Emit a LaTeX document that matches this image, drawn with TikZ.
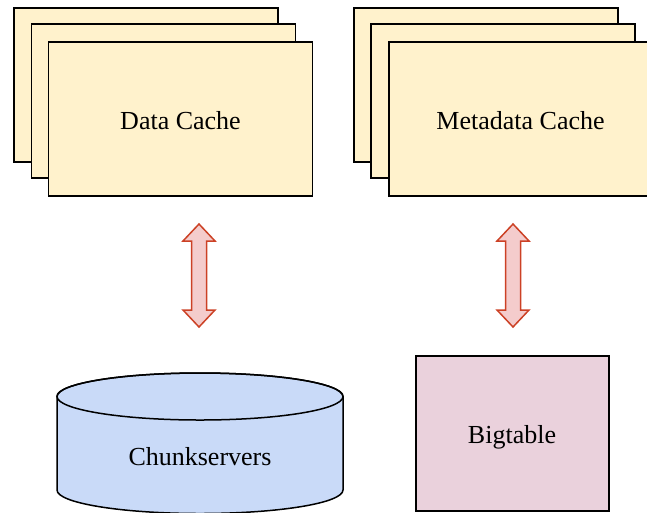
\documentclass[tikz,border=0pt]{standalone}
\usepackage{fontspec}
\setmainfont{Liberation Serif}
\definecolor{cachefill}{HTML}{FFF2CC}
\definecolor{cylfill}{HTML}{C9DAF8}
\definecolor{btfill}{HTML}{EAD1DC}
\definecolor{arrfill}{HTML}{F4CCCC}
\definecolor{arrline}{HTML}{CC4125}
\begin{document}
\begin{tikzpicture}[x=1pt,y=-1pt,
  cachebox/.style={draw=black,fill=cachefill,line width=1.5pt,minimum width=264pt,minimum height=154pt,inner sep=0pt},
  blockarrow/.style={draw=arrline,fill=arrfill,line width=1.5pt,line join=miter},
  lbl/.style={font=\fontsize{26}{30}\selectfont,inner sep=0pt}]
\useasboundingbox (0,0) rectangle (647,512);
\begin{scope}
\clip (0,0) rectangle (647,512);
% Data cache stack
\node[cachebox] (dc3) at (146,85) {};
\node[cachebox] (dc2) at (163.5,101) {};
\node[cachebox] (dc1) at (180.5,119) {};
\node[lbl] (dct) at (180.5,120.5) {Data Cache};
% Metadata cache stack
\node[cachebox] (mc3) at (486,85) {};
\node[cachebox] (mc2) at (503,101) {};
\node[cachebox] (mc1) at (521,119) {};
\node[lbl] (mct) at (520.5,120.5) {Metadata Cache};
% Block arrows
\foreach \cx/\nm in {199/a1,513/a2}{
  \draw[blockarrow] (\cx,224) -- (\cx+16,241) -- (\cx+7.5,241) -- (\cx+7.5,310) -- (\cx+16,310) -- (\cx,327) -- (\cx-16,310) -- (\cx-7.5,310) -- (\cx-7.5,241) -- (\cx-16,241) -- cycle;
}
% Cylinder
\filldraw[fill=cylfill,draw=black,line width=1.5pt] (57,396.5) -- (57,490) arc[start angle=180,end angle=360,x radius=143pt,y radius=23.5pt] -- (343,396.5) arc[start angle=0,end angle=180,x radius=143pt,y radius=23.5pt] -- cycle;
\draw[black,line width=1.5pt] (200,396.5) ellipse[x radius=143pt,y radius=23.5pt];
\node[lbl] (chunk) at (200,457) {Chunkservers};
% Bigtable
\node[draw=black,fill=btfill,line width=1.5pt,minimum width=193pt,minimum height=155pt,inner sep=0pt] (bt) at (512.5,433.5) {};
\node[lbl] (btt) at (512,437) {Bigtable};
\end{scope}
\end{tikzpicture}
\end{document}
